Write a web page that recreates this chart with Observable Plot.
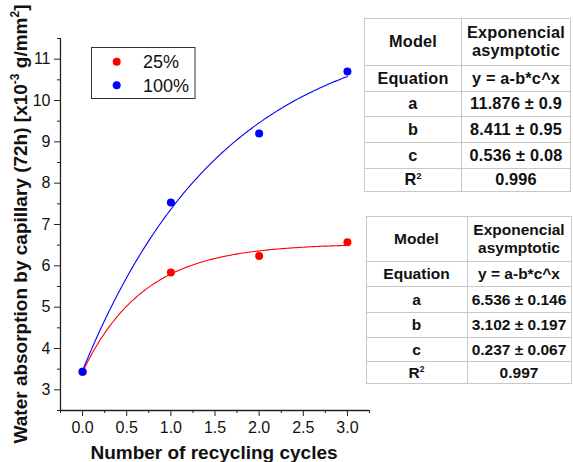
<!DOCTYPE html>
<html><head><meta charset="utf-8">
<script src="https://cdn.jsdelivr.net/npm/d3@7"></script>
<script src="https://cdn.jsdelivr.net/npm/@observablehq/plot@0.6"></script>
<style>
body{margin:0;background:#fff;}
#wrap{position:relative;width:573px;height:462px;overflow:hidden;font-family:"Liberation Sans",Arial,sans-serif;}
#wrap svg{position:absolute;left:0;top:0;}
table.fit{position:absolute;border-collapse:collapse;font-weight:bold;color:#111;text-align:center;border:1.5px solid #555;background:#fff;}
table.fit td{border:1px solid #c8c8c8;padding:0;line-height:1.1;}
sup{font-size:0.55em;vertical-align:0.7em;line-height:0;}
</style></head><body><div id="wrap"></div>
<script>
// ---- data ----
const cycles = [0, 1, 2, 3];
const abs25 = [3.44, 5.84, 6.24, 6.57];
const abs100 = [3.44, 7.53, 9.20, 10.70];
const seriesNames = ["25%", "100%"];
const seriesColors = ["#ff0000", "#0000ff"];
// fitted model y = a - b*c^x (parameters from the tables)
const fitA = [6.536, 11.876];
const fitB = [3.102, 8.411];
const fitC = [0.237, 0.536];
const xTicks = [0, 0.5, 1, 1.5, 2, 2.5, 3];
const xMinor = [-0.25, 0.25, 0.75, 1.25, 1.75, 2.25, 2.75, 3.25];
const yTicks = [3, 4, 5, 6, 7, 8, 9, 10, 11];
const yMinor = [2.5, 3.5, 4.5, 5.5, 6.5, 7.5, 8.5, 9.5, 10.5, 11.5];
const table1 = [["Model", "Exponencial<br>asymptotic"], ["Equation", "y = a-b*c^x"], ["a", "11.876 ± 0.9"], ["b", "8.411 ± 0.95"], ["c", "0.536 ± 0.08"], ["R<sup>2</sup>", "0.996"]];
const table2 = [["Model", "Exponencial<br>asymptotic"], ["Equation", "y = a-b*c^x"], ["a", "6.536 ± 0.146"], ["b", "3.102 ± 0.197"], ["c", "0.237 ± 0.067"], ["R<sup>2</sup>", "0.997"]];

const points = [];
[abs25, abs100].forEach((vals, s) => cycles.forEach((c, i) => points.push({x: c, y: vals[i], s: seriesNames[s]})));
const curves = [];
seriesNames.forEach((name, s) => {
  for (let k = 0; k <= 150; k++) {
    const x = k * 0.02;
    curves.push({x, y: fitA[s] - fitB[s] * Math.pow(fitC[s], x), s: name});
  }
});

const font = '"Liberation Sans", Arial, sans-serif';
const axisColor = "#222";
const chart = Plot.plot({
  width: 573, height: 462,
  marginLeft: 60, marginRight: 204, marginTop: 38, marginBottom: 52,
  style: {fontFamily: font, fontSize: "16px", color: "#111", background: "transparent"},
  x: {domain: [-0.25, 3.25]},
  y: {domain: [2.5, 11.5]},
  color: {domain: seriesNames, range: seriesColors},
  marks: [
    Plot.axisX({ticks: xTicks, tickFormat: d => d.toFixed(1), tickSize: 6, tickPadding: 5, label: null, stroke: axisColor}),
    Plot.axisX({ticks: xMinor, tickFormat: () => "", tickSize: 3, label: null, stroke: axisColor}),
    Plot.axisY({ticks: yTicks, tickFormat: d => String(d), tickSize: 6, tickPadding: 4, label: null, stroke: axisColor}),
    Plot.axisY({ticks: yMinor, tickFormat: () => "", tickSize: 3, label: null, stroke: axisColor}),
    Plot.ruleX([-0.25], {stroke: axisColor, strokeWidth: 1.3}),
    Plot.ruleY([2.5], {stroke: axisColor, strokeWidth: 1.3}),
    Plot.line(curves, {x: "x", y: "y", z: "s", stroke: "s", strokeWidth: 1.1}),
    Plot.dot(points, {x: "x", y: "y", fill: "s", r: 4})
  ]
});
const wrap = document.getElementById("wrap");
wrap.appendChild(chart);

const svg = d3.select(chart);
// axis titles
const yt = svg.append("text")
  .attr("transform", "translate(26.5,224) rotate(-90)")
  .attr("text-anchor", "middle")
  .style("font", `bold 19px ${font}`).attr("fill", "#111");
yt.append("tspan").text("Water absorption by capillary (72h) [x10");
yt.append("tspan").attr("dy", -8).style("font-size", "12px").text("-3");
yt.append("tspan").attr("dy", 8).text(" g/mm");
yt.append("tspan").attr("dy", -8).style("font-size", "12px").text("2");
yt.append("tspan").attr("dy", 8).text("]");

svg.append("text").attr("x", 214).attr("y", 459).attr("text-anchor", "middle")
  .style("font", `bold 19px ${font}`).attr("fill", "#111").text("Number of recycling cycles");

// legend
const lg = svg.append("g");
lg.append("rect").attr("x", 91.5).attr("y", 47.5).attr("width", 103.5).attr("height", 51)
  .attr("fill", "#fff").attr("stroke", "#333").attr("stroke-width", 1);
seriesNames.forEach((n, i) => {
  const cy = 61.7 + i * 23.5;
  lg.append("circle").attr("cx", 116.7).attr("cy", cy).attr("r", 4).attr("fill", seriesColors[i]);
  lg.append("text").attr("x", 143).attr("y", cy + 6.5).attr("text-anchor", "start")
    .style("font", `18px ${font}`).attr("fill", "#111").text(n);
});

// tables
function makeTable(rows, left, top, w1, w2, heights, fs, ls) {
  const t = document.createElement("table");
  t.className = "fit";
  t.style.left = left + "px"; t.style.top = top + "px";
  t.style.fontSize = fs + "px"; t.style.letterSpacing = ls + "px";
  rows.forEach((r, i) => {
    const tr = document.createElement("tr");
    tr.style.height = heights[i] + "px";
    r.forEach((c, j) => {
      const td = document.createElement("td");
      td.style.width = (j === 0 ? w1 : w2) + "px";
      td.innerHTML = c;
      tr.appendChild(td);
    });
    t.appendChild(tr);
  });
  wrap.appendChild(t);
}
makeTable(table1, 364, 18, 96, 108, [47.4, 25.3, 25.7, 26, 25.3, 23.7], 16.3, 0.2);
makeTable(table2, 365.5, 215.5, 100, 103, [45, 25.7, 25.6, 25.4, 24.3, 21.3], 15.5, 0);
</script></body></html>
